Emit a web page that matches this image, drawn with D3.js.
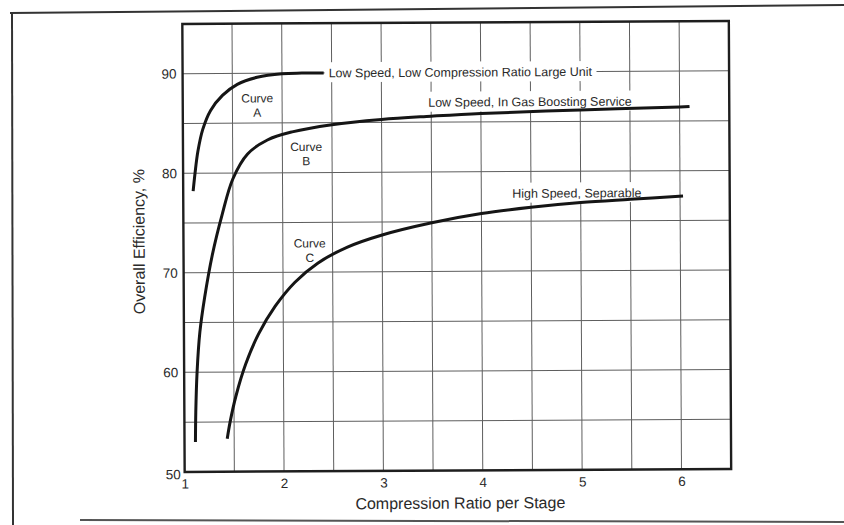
<!DOCTYPE html>
<html>
<head>
<meta charset="utf-8">
<script src="https://cdn.jsdelivr.net/npm/d3@7"></script>
<style>
  body { margin: 0; background: #fff; }
  svg { display: block; }
  text { font-family: "Liberation Sans", Arial, Helvetica, sans-serif; fill: #2a2a2a; }
  .grid line { stroke: #5e5e5e; stroke-width: 1; }
  .curve { fill: none; stroke: #151515; stroke-width: 3; stroke-linecap: butt; }
  .axis text { font-size: 13.5px; }
</style>
</head>
<body>
<svg id="chart" width="844" height="525"></svg>
<script>
// Curve A - low speed, low compression ratio large unit
const curveAX = [1.10, 1.12, 1.15, 1.20, 1.28, 1.40, 1.55, 1.75, 2.0, 2.2, 2.42];
const curveAY = [78.2, 80.0, 82.2, 84.4, 86.3, 87.8, 88.9, 89.6, 89.95, 90.0, 90.0];

// Curve B - low speed, in gas boosting service
const curveBX = [1.11, 1.115, 1.13, 1.16, 1.21, 1.29, 1.39, 1.50, 1.65, 1.85, 2.1, 2.5, 3.0, 3.5, 4.0, 5.0, 6.0, 6.1];
const curveBY = [53.0, 56.0, 60.0, 64.0, 67.5, 71.8, 75.8, 79.4, 81.9, 83.3, 84.1, 84.8, 85.3, 85.6, 85.85, 86.15, 86.4, 86.45];

// Curve C - high speed, separable
const curveCX = [1.43, 1.46, 1.52, 1.62, 1.75, 1.92, 2.12, 2.35, 2.65, 3.0, 3.5, 4.0, 4.5, 5.0, 5.5, 6.03];
const curveCY = [53.3, 55.0, 57.6, 60.8, 63.8, 66.6, 69.0, 70.9, 72.5, 73.7, 74.9, 75.8, 76.4, 76.85, 77.15, 77.45];

const xTicks = [1, 2, 3, 4, 5, 6];
const yTicks = [50, 60, 70, 80, 90];
const xGrid = d3.range(1.5, 6.5, 0.5);
const yGrid = d3.range(55, 95, 5);

// annotations, anchored in data units
const serviceLabels = ["Low Speed, Low Compression Ratio Large Unit", "Low Speed, In Gas Boosting Service", "High Speed, Separable"];
const serviceX = [2.47, 3.47, 4.31];
const serviceY = [90.0, 87.0, 77.8];
const curveNames = ["A", "B", "C"];
const curveNameX = [1.75, 2.24, 2.27];
const curveNameY = [87.5, 82.6, 72.9];

const svg = d3.select('#chart');

// scanned page frame
const frame = svg.append('g').attr('stroke', '#333').attr('stroke-width', 2);
frame.append('line').attr('x1', 10).attr('y1', 13).attr('x2', 844).attr('y2', 5);
frame.append('line').attr('x1', 12).attr('y1', 12).attr('x2', 13).attr('y2', 525);
frame.append('line').attr('x1', 80).attr('y1', 520).attr('x2', 844).attr('y2', 522).attr('stroke', '#555');

const x = d3.scaleLinear().domain([1, 6.5]).range([183.5, 730]);
const y = d3.scaleLinear().domain([50, 95]).range([470.5, 22.5]);

// the scan is turned a little
const plot = svg.append('g').attr('transform', 'rotate(-0.3, 457, 247)');

const grid = plot.append('g').attr('class', 'grid');
grid.selectAll('.vx').data(xGrid).enter().append('line')
  .attr('x1', d => x(d)).attr('x2', d => x(d))
  .attr('y1', y(50)).attr('y2', y(95));
grid.selectAll('.hy').data(yGrid).enter().append('line')
  .attr('y1', d => y(d)).attr('y2', d => y(d))
  .attr('x1', x(1)).attr('x2', x(6.5));

// service labels sit on white patches that hide the grid
const labels = plot.append('g');
serviceLabels.forEach((t, i) => {
  const g = labels.append('g');
  const txt = g.append('text')
    .attr('x', x(serviceX[i])).attr('y', y(serviceY[i]))
    .attr('dy', '0.35em')
    .style('font-size', '12.5px')
    .text(t);
  const b = txt.node().getBBox();
  g.insert('rect', 'text')
    .attr('x', b.x - 4).attr('y', b.y - 4)
    .attr('width', b.width + 8).attr('height', b.height + 6)
    .attr('fill', '#fff');
});

const line = d3.line()
  .x(d => x(d[0]))
  .y(d => y(d[1]))
  .curve(d3.curveCatmullRom.alpha(0.5));

[[curveAX, curveAY], [curveBX, curveBY], [curveCX, curveCY]].forEach(c => {
  plot.append('path')
    .datum(d3.zip(c[0], c[1]))
    .attr('class', 'curve')
    .attr('d', line);
});

curveNames.forEach((n, i) => {
  const t = plot.append('text')
    .attr('x', x(curveNameX[i])).attr('y', y(curveNameY[i]))
    .attr('text-anchor', 'middle')
    .style('font-size', '12px');
  t.append('tspan').attr('x', x(curveNameX[i])).attr('dy', '0.35em').text('Curve');
  t.append('tspan').attr('x', x(curveNameX[i])).attr('dy', '1.2em').text(n);
});

// plot border
plot.append('rect')
  .attr('x', x(1)).attr('y', y(95))
  .attr('width', x(6.5) - x(1)).attr('height', y(50) - y(95))
  .attr('fill', 'none').attr('stroke', '#1e1e1e').attr('stroke-width', 2.4);

const xAxis = plot.append('g').attr('class', 'axis')
  .attr('transform', `translate(0,${y(50)})`)
  .call(d3.axisBottom(x).tickValues(xTicks).tickSize(0).tickPadding(7).tickFormat(d3.format('d')));
xAxis.select('.domain').remove();

const yAxis = plot.append('g').attr('class', 'axis')
  .attr('transform', `translate(${x(1)},0)`)
  .call(d3.axisLeft(y).tickValues(yTicks).tickSize(0).tickPadding(6));
yAxis.select('.domain').remove();
yAxis.selectAll('text').filter(d => d === 50).attr('dy', '0.5em').attr('x', -4);

plot.append('text')
  .attr('x', 459).attr('y', 503).attr('dy', '0.35em')
  .attr('text-anchor', 'middle')
  .style('font-size', '16px')
  .text('Compression Ratio per Stage');

plot.append('text')
  .attr('transform', 'translate(139,240) rotate(-90)')
  .attr('dy', '0.35em')
  .attr('text-anchor', 'middle')
  .style('font-size', '16px')
  .text('Overall Efficiency, %');
</script>
</body>
</html>
